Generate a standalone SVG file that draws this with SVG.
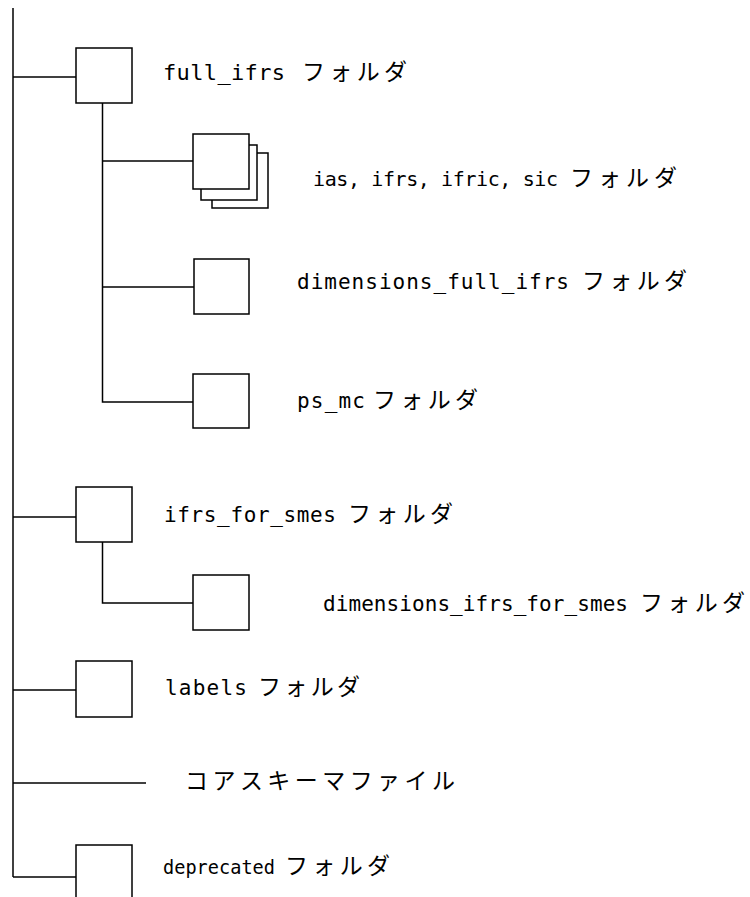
<svg xmlns="http://www.w3.org/2000/svg" width="750" height="897" viewBox="0 0 750 897">
<style>
.ln{stroke:#000;stroke-width:1.5;fill:none}
.bx{stroke:#000;stroke-width:1.5;fill:#fff}
.la{font-family:"DejaVu Sans Mono","Liberation Mono",monospace;font-size:22px;fill:#000}
.jp{font-family:"Noto Sans CJK JP",sans-serif;font-size:23px;fill:#000}
</style>
<rect width="750" height="897" fill="#fff"/>
<g id="connectors">
<path class="ln" d="M13 8V877"/>
<path class="ln" d="M13 77H76"/>
<path class="ln" d="M13 517H76"/>
<path class="ln" d="M13 690H76"/>
<path class="ln" d="M13 783H146"/>
<path class="ln" d="M13 877H76"/>
<path class="ln" d="M102.5 103V402H193"/>
<path class="ln" d="M102.5 161H193"/>
<path class="ln" d="M102.5 287H194"/>
<path class="ln" d="M102.5 542V603H193"/>
</g>
<g id="full_ifrs">
<rect class="bx" x="76" y="48" width="56" height="55"/>
<text class="la" x="163" y="80" textLength="122">full_ifrs</text>
<text class="jp" x="302" y="80" textLength="105">フォルダ</text>
</g>
<g id="ias_ifrs_ifric_sic">
<rect class="bx" x="212" y="153" width="56" height="55"/>
<rect class="bx" x="201" y="145" width="56" height="55"/>
<rect class="bx" x="193" y="134" width="56" height="55"/>
<text class="la" x="313" y="186" textLength="245" style="font-size:20px">ias, ifrs, ifric, sic</text>
<text class="jp" x="570" y="186" textLength="107">フォルダ</text>
</g>
<g id="dimensions_full_ifrs">
<rect class="bx" x="194" y="259" width="55" height="55"/>
<text class="la" x="297" y="289" textLength="272" style="font-size:21px">dimensions_full_ifrs</text>
<text class="jp" x="582" y="289" textLength="105">フォルダ</text>
</g>
<g id="ps_mc">
<rect class="bx" x="193" y="374" width="56" height="54"/>
<text class="la" x="297" y="408" textLength="68" style="font-size:21px">ps_mc</text>
<text class="jp" x="373" y="408" textLength="105">フォルダ</text>
</g>
<g id="ifrs_for_smes">
<rect class="bx" x="76" y="487" width="56" height="55"/>
<text class="la" x="164" y="522" textLength="172" style="font-size:21px">ifrs_for_smes</text>
<text class="jp" x="348" y="522" textLength="105">フォルダ</text>
</g>
<g id="dimensions_ifrs_for_smes">
<rect class="bx" x="193" y="575" width="56" height="55"/>
<text class="la" x="323" y="611" textLength="305" style="font-size:21px">dimensions_ifrs_for_smes</text>
<text class="jp" x="640" y="611" textLength="105">フォルダ</text>
</g>
<g id="labels">
<rect class="bx" x="76" y="661" width="56" height="56"/>
<text class="la" x="165" y="695" textLength="82" style="font-size:21px">labels</text>
<text class="jp" x="258" y="695" textLength="102">フォルダ</text>
</g>
<g id="core_schema">
<text class="jp" x="185" y="789" textLength="270">コアスキーマファイル</text>
</g>
<g id="deprecated">
<rect class="bx" x="76" y="845" width="56" height="60"/>
<text class="la" x="163" y="874" textLength="112" lengthAdjust="spacingAndGlyphs" style="font-size:20px">deprecated</text>
<text class="jp" x="285" y="874" textLength="105">フォルダ</text>
</g>
</svg>
